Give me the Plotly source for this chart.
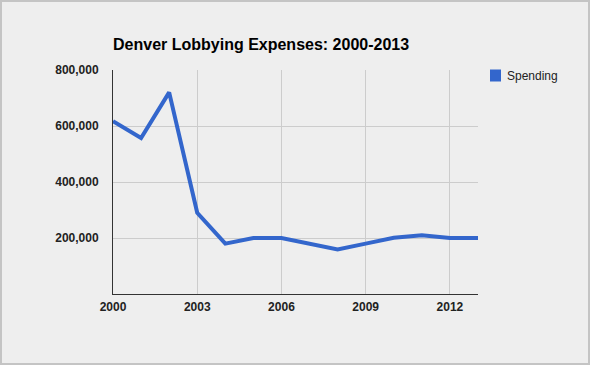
import plotly.graph_objects as go

years = [2000, 2001, 2002, 2003, 2004, 2005, 2006, 2007, 2008, 2009, 2010, 2011, 2012, 2013]
spending = [617000, 557000, 720000, 290000, 180000, 200000, 200000, 180000, 159000, 180000, 201000, 210000, 200000, 200000]
x_ticks = [2000, 2003, 2006, 2009, 2012]
y_ticks = [200000, 400000, 600000, 800000]
y_tick_labels = ["200,000", "400,000", "600,000", "800,000"]
series_name = "Spending"

FONT = "Arial, Liberation Sans, sans-serif"
BLUE = "#3366cc"

W, H = 590, 365
ML, MR, MT, MB = 113, 112, 70, 71
PW, PH = W - ML - MR, H - MT - MB


def px_x(p):
    return (p - ML) / PW


def px_y(p):
    return (H - MB - p) / PH


fig = go.Figure()
fig.add_trace(go.Scatter(x=years, y=spending, mode="lines", name=series_name,
                         line=dict(color=BLUE, width=4), showlegend=False,
                         hoverinfo="skip"))

fig.update_layout(
    width=W, height=H,
    margin=dict(l=ML, r=MR, t=MT, b=MB),
    paper_bgcolor="#eeeeee", plot_bgcolor="#eeeeee",
    showlegend=False,
    title=dict(text="Denver Lobbying Expenses: 2000-2013",
               font=dict(family=FONT, size=16, color="#000000", weight="bold"),
               x=0, xref="paper", xanchor="left",
               y=1 - 44 / H, yref="container", yanchor="middle"),
    xaxis=dict(range=[2000, 2013], tickvals=x_ticks, ticktext=[str(v) for v in x_ticks],
               showgrid=True, gridcolor="#cccccc", gridwidth=1, zeroline=False,
               showline=True, linecolor="#333333", linewidth=1, ticks="",
               tickfont=dict(family=FONT, size=12, color="#222222", weight="bold"),
               ticklabelstandoff=2),
    yaxis=dict(range=[0, 800000], tickvals=y_ticks, ticktext=y_tick_labels,
               showgrid=True, gridcolor="#cccccc", gridwidth=1, zeroline=False,
               showline=True, linecolor="#333333", linewidth=1, ticks="",
               tickfont=dict(family=FONT, size=12, color="#222222", weight="bold"),
               ticklabelstandoff=11),
    shapes=[
        dict(type="rect", xref="paper", yref="paper",
             x0=px_x(1), x1=px_x(W - 1), y0=px_y(H - 1), y1=px_y(1),
             line=dict(color="#c4c4c4", width=2), layer="below"),
        dict(type="rect", xref="paper", yref="paper",
             x0=px_x(490), x1=px_x(501), y0=px_y(81.5), y1=px_y(69.5),
             line=dict(width=0), fillcolor=BLUE),
    ],
    annotations=[
        dict(text=series_name, xref="paper", yref="paper",
             x=px_x(505), y=px_y(75.5), xanchor="left", yanchor="middle",
             showarrow=False, font=dict(family=FONT, size=12, color="#222222")),
    ],
)

fig.write_html("out.html", config={"displayModeBar": False},
               post_script="document.body.style.margin='0';document.body.style.overflow='hidden';")
